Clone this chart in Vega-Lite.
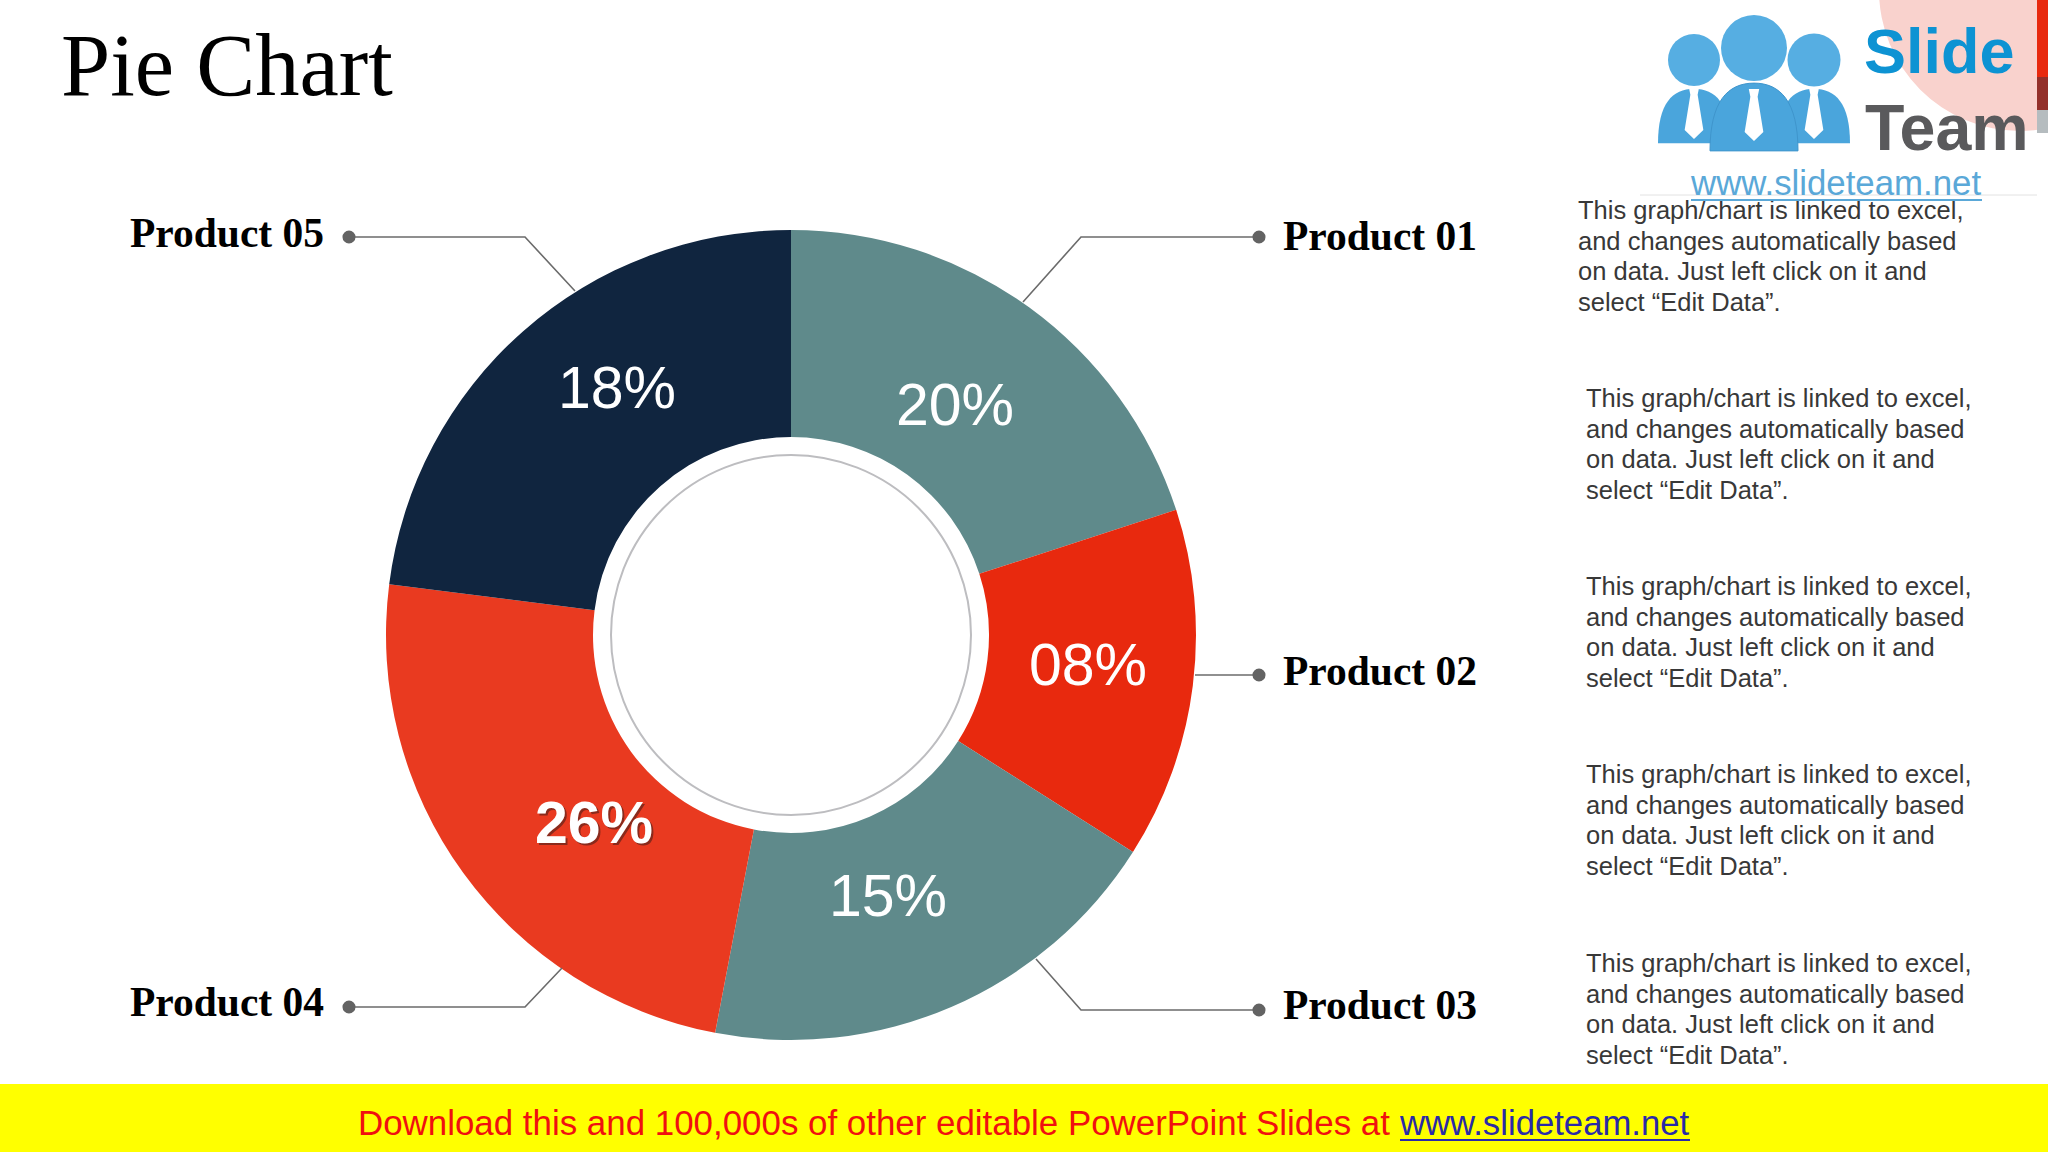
{
  "$schema": "https://vega.github.io/schema/vega-lite/v6.json",
  "width": 2048,
  "height": 1152,
  "autosize": {"type": "fit", "contains": "padding"},
  "padding": 0,
  "background": "#ffffff",
  "config": {"view": {"stroke": null}},
  "datasets": {
    "slices": [
      {"product": "Product 01", "label": "20%", "share": 20, "ord": 1, "x": 955, "y": 407},
      {"product": "Product 02", "label": "08%", "share": 14, "ord": 2, "x": 1088, "y": 667},
      {"product": "Product 03", "label": "15%", "share": 19, "ord": 3, "x": 888, "y": 898},
      {"product": "Product 04", "label": "26%", "share": 24, "ord": 4, "x": 594, "y": 825},
      {"product": "Product 05", "label": "18%", "share": 23, "ord": 5, "x": 617, "y": 390}
    ],
    "leaders": [
      {"product": "Product 01", "x": 1259, "y": 237, "step": 1},
      {"product": "Product 01", "x": 1081, "y": 237, "step": 2},
      {"product": "Product 01", "x": 1023, "y": 302, "step": 3},
      {"product": "Product 02", "x": 1259, "y": 675, "step": 1},
      {"product": "Product 02", "x": 1195, "y": 675, "step": 2},
      {"product": "Product 03", "x": 1259, "y": 1010, "step": 1},
      {"product": "Product 03", "x": 1081, "y": 1010, "step": 2},
      {"product": "Product 03", "x": 1036, "y": 959, "step": 3},
      {"product": "Product 04", "x": 349, "y": 1007, "step": 1},
      {"product": "Product 04", "x": 525, "y": 1007, "step": 2},
      {"product": "Product 04", "x": 562, "y": 968, "step": 3},
      {"product": "Product 05", "x": 349, "y": 237, "step": 1},
      {"product": "Product 05", "x": 525, "y": 237, "step": 2},
      {"product": "Product 05", "x": 575, "y": 291, "step": 3}
    ],
    "names": [
      {"product": "Product 01", "x": 1283, "y": 250},
      {"product": "Product 02", "x": 1283, "y": 685},
      {"product": "Product 03", "x": 1283, "y": 1019},
      {"product": "Product 04", "x": 130, "y": 1016},
      {"product": "Product 05", "x": 130, "y": 247}
    ],
    "notes": [
      {"note": "This graph/chart is linked to excel,\nand changes automatically based\non data. Just left click on it and\nselect “Edit Data”.", "x": 1578, "y": 199},
      {"note": "This graph/chart is linked to excel,\nand changes automatically based\non data. Just left click on it and\nselect “Edit Data”.", "x": 1586, "y": 387},
      {"note": "This graph/chart is linked to excel,\nand changes automatically based\non data. Just left click on it and\nselect “Edit Data”.", "x": 1586, "y": 575},
      {"note": "This graph/chart is linked to excel,\nand changes automatically based\non data. Just left click on it and\nselect “Edit Data”.", "x": 1586, "y": 763},
      {"note": "This graph/chart is linked to excel,\nand changes automatically based\non data. Just left click on it and\nselect “Edit Data”.", "x": 1586, "y": 952}
    ],
    "heads": [
      {"x": 1694, "y": 60, "d": 52},
      {"x": 1754, "y": 48, "d": 66},
      {"x": 1814, "y": 60, "d": 53}
    ],
    "sideBodies": [
      {"x": 1694, "y": 116},
      {"x": 1814, "y": 116}
    ],
    "midBody": [{"x": 1754, "y": 117}],
    "ties": [
      {"x": 1694, "y": 113},
      {"x": 1754, "y": 115},
      {"x": 1814, "y": 113}
    ],
    "cornerStrip": [
      {"x": 2037, "x2": 2048, "y": 0, "y2": 77, "tone": "red"},
      {"x": 2037, "x2": 2048, "y": 77, "y2": 110, "tone": "dark"},
      {"x": 2037, "x2": 2048, "y": 110, "y2": 133, "tone": "grey"}
    ]
  },
  "layer": [
    {
      "data": {"values": [{"x": 0, "x2": 2048, "y": 1084, "y2": 1152}]},
      "mark": {"type": "rect", "color": "#ffff00"},
      "encoding": {
        "x": {"field": "x", "type": "quantitative", "axis": null, "scale": {"domain": [0, 2048], "range": [0, 2048], "nice": false, "zero": false}},
        "x2": {"field": "x2"},
        "y": {"field": "y", "type": "quantitative", "axis": null, "scale": {"domain": [0, 1152], "range": [0, 1152], "nice": false, "zero": false}},
        "y2": {"field": "y2"}
      }
    },
    {
      "data": {"name": "slices"},
      "mark": {"type": "arc", "radius": 405, "radius2": 198},
      "encoding": {
        "x": {"datum": 791, "type": "quantitative"},
        "y": {"datum": 635, "type": "quantitative"},
        "theta": {"field": "share", "type": "quantitative", "stack": true},
        "order": {"field": "ord", "type": "quantitative"},
        "color": {
          "field": "product",
          "type": "nominal",
          "legend": null,
          "scale": {
            "domain": ["Product 01", "Product 02", "Product 03", "Product 04", "Product 05"],
            "range": ["#5f8a8b", "#e8290e", "#5f8a8b", "#e93a20", "#10253f"]
          }
        }
      }
    },
    {
      "data": {"values": [{"ring": "inner"}]},
      "mark": {"type": "point", "shape": "circle", "filled": false, "size": 129600, "stroke": "#bdbdc0", "strokeWidth": 2, "opacity": 1},
      "encoding": {
        "x": {"datum": 791, "type": "quantitative"},
        "y": {"datum": 635, "type": "quantitative"}
      }
    },
    {
      "data": {"name": "slices"},
      "transform": [{"filter": "datum.label == '26%'"}],
      "mark": {"type": "text", "font": "Liberation Sans", "fontSize": 59, "fontWeight": "bold", "color": "#8a2a1c", "dx": 2, "dy": 2},
      "encoding": {
        "x": {"field": "x", "type": "quantitative"},
        "y": {"field": "y", "type": "quantitative"},
        "text": {"field": "label"}
      }
    },
    {
      "data": {"name": "slices"},
      "transform": [{"filter": "datum.label == '26%'"}],
      "mark": {"type": "text", "font": "Liberation Sans", "fontSize": 59, "fontWeight": "bold", "color": "#ffffff"},
      "encoding": {
        "x": {"field": "x", "type": "quantitative"},
        "y": {"field": "y", "type": "quantitative"},
        "text": {"field": "label"}
      }
    },
    {
      "data": {"name": "slices"},
      "transform": [{"filter": "datum.label != '26%'"}],
      "mark": {"type": "text", "font": "Liberation Sans", "fontSize": 59, "color": "#ffffff"},
      "encoding": {
        "x": {"field": "x", "type": "quantitative"},
        "y": {"field": "y", "type": "quantitative"},
        "text": {"field": "label"}
      }
    },
    {
      "data": {"name": "leaders"},
      "mark": {"type": "line", "color": "#6b6b6b", "strokeWidth": 1.6},
      "encoding": {
        "x": {"field": "x", "type": "quantitative"},
        "y": {"field": "y", "type": "quantitative"},
        "detail": {"field": "product"},
        "order": {"field": "step", "type": "quantitative"}
      }
    },
    {
      "data": {"name": "leaders"},
      "transform": [{"filter": "datum.step == 1"}],
      "mark": {"type": "point", "shape": "circle", "filled": true, "size": 170, "color": "#636363", "opacity": 1},
      "encoding": {
        "x": {"field": "x", "type": "quantitative"},
        "y": {"field": "y", "type": "quantitative"}
      }
    },
    {
      "data": {"name": "names"},
      "mark": {"type": "text", "font": "Liberation Serif", "fontSize": 41.5, "fontWeight": "bold", "align": "left", "baseline": "alphabetic", "color": "#000000"},
      "encoding": {
        "x": {"field": "x", "type": "quantitative"},
        "y": {"field": "y", "type": "quantitative"},
        "text": {"field": "product"}
      }
    },
    {
      "data": {"name": "notes"},
      "mark": {"type": "text", "font": "Liberation Sans", "fontSize": 25.5, "lineHeight": 30.7, "lineBreak": "\n", "align": "left", "baseline": "top", "color": "#383838"},
      "encoding": {
        "x": {"field": "x", "type": "quantitative"},
        "y": {"field": "y", "type": "quantitative"},
        "text": {"field": "note"}
      }
    },
    {
      "data": {"values": [{"text": "Pie Chart", "x": 61, "y": 95}]},
      "mark": {"type": "text", "font": "Liberation Serif", "fontSize": 88.5, "align": "left", "baseline": "alphabetic", "color": "#000000"},
      "encoding": {
        "x": {"field": "x", "type": "quantitative"},
        "y": {"field": "y", "type": "quantitative"},
        "text": {"field": "text"}
      }
    },
    {
      "data": {"values": [{"text": "Download this and 100,000s of other editable PowerPoint Slides at", "x": 358, "y": 1135}]},
      "mark": {"type": "text", "font": "Liberation Sans", "fontSize": 34.9, "align": "left", "baseline": "alphabetic", "color": "#f01010"},
      "encoding": {
        "x": {"field": "x", "type": "quantitative"},
        "y": {"field": "y", "type": "quantitative"},
        "text": {"field": "text"}
      }
    },
    {
      "data": {"values": [{"text": "www.slideteam.net", "x": 1400, "y": 1135}]},
      "mark": {"type": "text", "font": "Liberation Sans", "fontSize": 34.7, "align": "left", "baseline": "alphabetic", "color": "#2a2aa8"},
      "encoding": {
        "x": {"field": "x", "type": "quantitative"},
        "y": {"field": "y", "type": "quantitative"},
        "text": {"field": "text"}
      }
    },
    {
      "data": {"values": [{"x": 1400, "x2": 1690, "y": 1140}]},
      "mark": {"type": "rule", "color": "#2a2aa8", "strokeWidth": 2},
      "encoding": {
        "x": {"field": "x", "type": "quantitative"},
        "x2": {"field": "x2"},
        "y": {"field": "y", "type": "quantitative"}
      }
    },
    {
      "data": {"values": [{"x": 2020, "y": -10}]},
      "mark": {"type": "point", "shape": "circle", "filled": true, "size": 79524, "color": "#f9d2cd", "opacity": 1, "clip": true},
      "encoding": {
        "x": {"field": "x", "type": "quantitative"},
        "y": {"field": "y", "type": "quantitative"}
      }
    },
    {
      "data": {"name": "cornerStrip"},
      "mark": {"type": "rect"},
      "encoding": {
        "x": {"field": "x", "type": "quantitative"},
        "x2": {"field": "x2"},
        "y": {"field": "y", "type": "quantitative"},
        "y2": {"field": "y2"},
        "fill": {
          "field": "tone",
          "type": "nominal",
          "legend": null,
          "scale": {"domain": ["red", "dark", "grey"], "range": ["#e8290e", "#93302a", "#b5bcbf"]}
        }
      }
    },
    {
      "data": {"values": [{"x": 1640, "x2": 2037, "y": 195}]},
      "mark": {"type": "rule", "color": "#e2e2e2", "strokeWidth": 1},
      "encoding": {
        "x": {"field": "x", "type": "quantitative"},
        "x2": {"field": "x2"},
        "y": {"field": "y", "type": "quantitative"}
      }
    },
    {
      "data": {"name": "sideBodies"},
      "mark": {"type": "point", "filled": true, "opacity": 1, "color": "#4aa5dc", "size": 5184, "shape": "M-1,0.76 C-1,-0.35 -0.6,-0.76 0,-0.76 C0.6,-0.76 1,-0.35 1,0.76 Z"},
      "encoding": {
        "x": {"field": "x", "type": "quantitative"},
        "y": {"field": "y", "type": "quantitative"}
      }
    },
    {
      "data": {"name": "heads"},
      "mark": {"type": "point", "shape": "circle", "filled": true, "opacity": 1, "color": "#56aee2"},
      "encoding": {
        "x": {"field": "x", "type": "quantitative"},
        "y": {"field": "y", "type": "quantitative"},
        "size": {"field": "d", "type": "quantitative", "legend": null, "scale": {"type": "pow", "exponent": 2, "domain": [52, 66], "range": [2704, 4356], "zero": false}}
      }
    },
    {
      "data": {"name": "midBody"},
      "mark": {"type": "point", "filled": true, "opacity": 1, "color": "#4aa5dc", "stroke": "#3f95cc", "strokeWidth": 1, "size": 7744, "shape": "M-1,0.77 C-1,-0.35 -0.6,-0.77 0,-0.77 C0.6,-0.77 1,-0.35 1,0.77 Z"},
      "encoding": {
        "x": {"field": "x", "type": "quantitative"},
        "y": {"field": "y", "type": "quantitative"}
      }
    },
    {
      "data": {"name": "ties"},
      "mark": {"type": "point", "filled": true, "opacity": 1, "color": "#ffffff", "size": 2700, "shape": "M-0.2,-1 L0.2,-1 L0.14,-0.7 L0.36,0.65 L0,1 L-0.36,0.65 L-0.14,-0.7 Z"},
      "encoding": {
        "x": {"field": "x", "type": "quantitative"},
        "y": {"field": "y", "type": "quantitative"}
      }
    },
    {
      "data": {"values": [{"text": "Slide", "x": 1864, "y": 73}]},
      "mark": {"type": "text", "font": "Liberation Sans", "fontSize": 63, "fontWeight": "bold", "align": "left", "baseline": "alphabetic", "color": "#0d93d3"},
      "encoding": {
        "x": {"field": "x", "type": "quantitative"},
        "y": {"field": "y", "type": "quantitative"},
        "text": {"field": "text"}
      }
    },
    {
      "data": {"values": [{"text": "Team", "x": 1865, "y": 150}]},
      "mark": {"type": "text", "font": "Liberation Sans", "fontSize": 64.5, "fontWeight": "bold", "align": "left", "baseline": "alphabetic", "color": "#5a5a5c"},
      "encoding": {
        "x": {"field": "x", "type": "quantitative"},
        "y": {"field": "y", "type": "quantitative"},
        "text": {"field": "text"}
      }
    },
    {
      "data": {"values": [{"text": "www.slideteam.net", "x": 1691, "y": 195}]},
      "mark": {"type": "text", "font": "Liberation Sans", "fontSize": 34.8, "align": "left", "baseline": "alphabetic", "color": "#5aa8d8"},
      "encoding": {
        "x": {"field": "x", "type": "quantitative"},
        "y": {"field": "y", "type": "quantitative"},
        "text": {"field": "text"}
      }
    },
    {
      "data": {"values": [{"x": 1691, "x2": 1982, "y": 200}]},
      "mark": {"type": "rule", "color": "#5aa8d8", "strokeWidth": 2},
      "encoding": {
        "x": {"field": "x", "type": "quantitative"},
        "x2": {"field": "x2"},
        "y": {"field": "y", "type": "quantitative"}
      }
    }
  ]
}
